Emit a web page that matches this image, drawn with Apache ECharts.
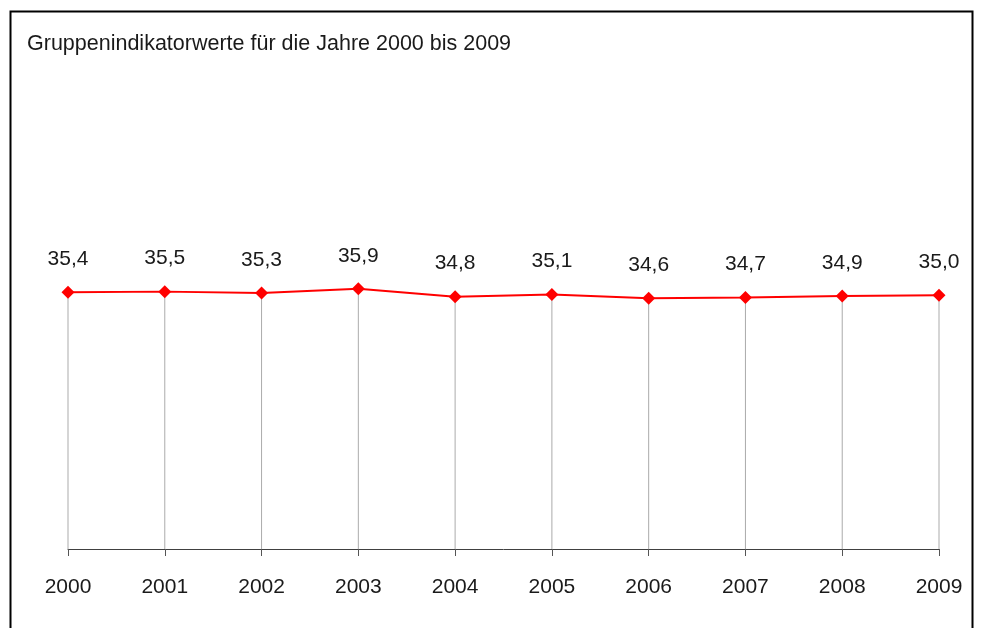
<!DOCTYPE html>
<html><head><meta charset="utf-8">
<script src="https://cdn.jsdelivr.net/npm/echarts@6/dist/echarts.min.js"></script>
<style>html,body{margin:0;padding:0;background:#fff}#c{width:983px;height:628px}</style>
</head><body><div id="c"></div>
<script>
const titleText = 'Gruppenindikatorwerte für die Jahre 2000 bis 2009';
const years = ['2000','2001','2002','2003','2004','2005','2006','2007','2008','2009'];
const values = [35.4, 35.5, 35.3, 35.9, 34.8, 35.1, 34.6, 34.7, 34.9, 35.0];
const fmt = v => v.toFixed(1).replace('.', ',');
const font = 'Liberation Sans';
const chart = echarts.init(document.getElementById('c'));
chart.setOption({
  animation: false,
  backgroundColor: '#fff',
  title: { text: titleText, left: 22, top: 28, textStyle: { fontFamily: font, fontSize: 21.5, fontWeight: 'normal', color: '#1a1a1a' } },
  graphic: [{ type: 'rect', shape: { x: 10.5, y: 11.5, width: 962, height: 700 }, style: { fill: 'none', stroke: '#000', lineWidth: 2 }, silent: true }],
  grid: { left: 68, right: 44, top: 41.5, bottom: 79 },
  xAxis: {
    type: 'category', data: years, boundaryGap: false,
    axisLine: { lineStyle: { color: '#404040', width: 1 } },
    axisTick: { show: true, length: 7, lineStyle: { color: '#555' } },
    axisLabel: { margin: 28, fontFamily: font, fontSize: 21, color: '#1a1a1a' },
    splitLine: { show: false }
  },
  yAxis: { type: 'value', min: 0, max: 70, show: false, splitLine: { show: false } },
  series: [
    { type: 'bar', data: values, barWidth: 1, itemStyle: { color: '#ababab' }, silent: true, z: 1 },
    { type: 'line', data: values, z: 3, symbol: 'diamond', symbolSize: 13,
      lineStyle: { color: '#ff0000', width: 2 }, itemStyle: { color: '#ff0000' },
      label: { show: true, position: 'top', distance: 16, formatter: p => fmt(p.value), fontFamily: font, fontSize: 21, color: '#1a1a1a' } }
  ]
});
</script></body></html>
